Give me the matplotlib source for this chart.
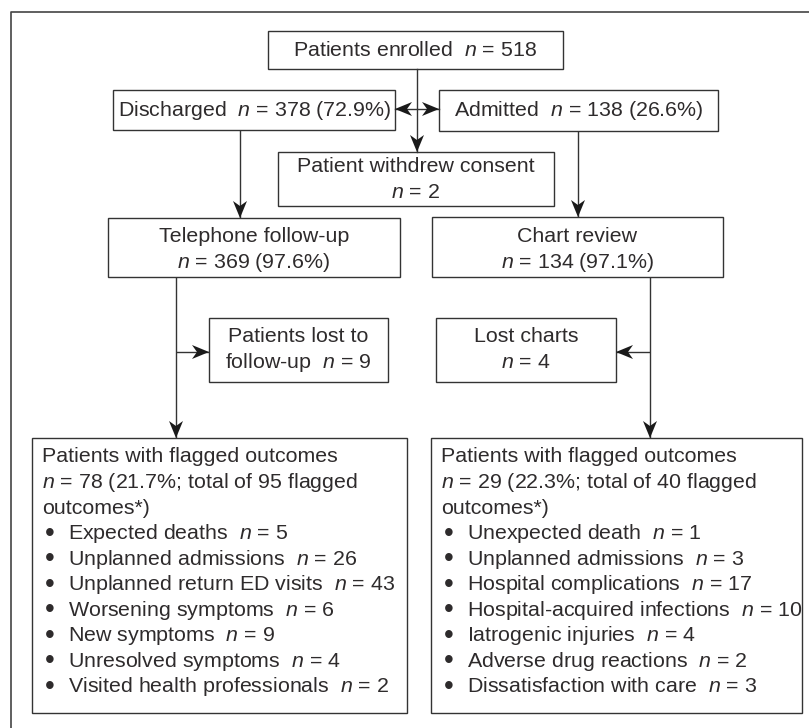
import matplotlib
matplotlib.use("Agg")
import matplotlib.pyplot as plt
from matplotlib.patches import Rectangle, Polygon

plt.rcParams['font.family'] = ['Liberation Sans', 'DejaVu Sans']
plt.rcParams['mathtext.fontset'] = 'custom'
plt.rcParams['mathtext.it'] = 'Liberation Sans:italic'
plt.rcParams['mathtext.rm'] = 'Liberation Sans'

# ---- data ----
enrolled_n = 518
discharged_n, discharged_pct = 378, 72.9
admitted_n, admitted_pct = 138, 26.6
withdrew_n = 2
phone_n, phone_pct = 369, 97.6
chart_n, chart_pct = 134, 97.1
lost_phone_n = 9
lost_chart_n = 4

left_flag_n, left_flag_pct, left_flag_total = 78, 21.7, 95
right_flag_n, right_flag_pct, right_flag_total = 29, 22.3, 40

left_items = ["Expected deaths", "Unplanned admissions", "Unplanned return ED visits",
              "Worsening symptoms", "New symptoms", "Unresolved symptoms",
              "Visited health professionals"]
left_counts = [5, 26, 43, 6, 9, 4, 2]
right_items = ["Unexpected death", "Unplanned admissions", "Hospital complications",
               "Hospital-acquired infections", "Iatrogenic injuries",
               "Adverse drug reactions", "Dissatisfaction with care"]
right_counts = [1, 3, 17, 10, 4, 2, 3]

# ---- figure ----
W, H = 809, 728
fig = plt.figure(figsize=(W / 100, H / 100), dpi=100)
ax = fig.add_axes([0, 0, 1, 1])
ax.set_xlim(0, W)
ax.set_ylim(H, 0)
ax.axis('off')

TXT = '#2e2b2c'
LINE = '#333333'
FS = 15.4
LW = 1.0


def box(x0, y0, x1, y1, lines=None, line_y=None):
    ax.add_patch(Rectangle((x0, y0), x1 - x0, y1 - y0, fill=False,
                           edgecolor=LINE, lw=LW))
    if lines:
        cx = (x0 + x1) / 2
        for t, y in zip(lines, line_y):
            ax.text(cx, y, t, ha='center', va='center', fontsize=FS, color=TXT)


def head(tx, ty, dx, dy, L=17, hw=7, notch=5):
    px, py = -dy, dx
    bx, by = tx - dx * L, ty - dy * L
    nx, ny = tx - dx * (L - notch), ty - dy * (L - notch)
    pts = [(tx, ty), (bx + px * hw, by + py * hw), (nx, ny), (bx - px * hw, by - py * hw)]
    ax.add_patch(Polygon(pts, closed=True, facecolor='#1a1a1a', edgecolor='none', zorder=5))


def arrow(x0, y0, x1, y1):
    ax.plot([x0, x1], [y0, y1], color=LINE, lw=LW, solid_capstyle='butt')
    d = ((x1 - x0) ** 2 + (y1 - y0) ** 2) ** 0.5
    head(x1, y1, (x1 - x0) / d, (y1 - y0) / d)


# outer frame
ax.plot([11, 11, W], [H, 12, 12], color='#444444', lw=1.2)

# boxes
box(268, 31, 563, 69, [f"Patients enrolled  $n$ = {enrolled_n}"], [50])
box(113, 90, 395, 130, [f"Discharged  $n$ = {discharged_n} ({discharged_pct}%)"], [110])
box(439, 90, 718, 131, [f"Admitted  $n$ = {admitted_n} ({admitted_pct}%)"], [110])
box(278, 152, 554, 206, ["Patient withdrew consent", f"$n$ = {withdrew_n}"], [166, 193])
box(108, 218, 400, 277, ["Telephone follow-up", f"$n$ = {phone_n} ({phone_pct}%)"], [236, 262])
box(432, 217, 723, 277, ["Chart review", f"$n$ = {chart_n} ({chart_pct}%)"], [236, 262])
box(209, 318, 388, 382, ["Patients lost to", f"follow-up  $n$ = {lost_phone_n}"], [337, 363])
box(436, 318, 616, 382, ["Lost charts", f"$n$ = {lost_chart_n}"], [337, 363])

# arrows top
ax.plot([417, 417], [69, 152], color=LINE, lw=LW)
head(417, 152, 0, 1)
ax.plot([395, 439], [109, 109], color=LINE, lw=LW)
head(395, 109, -1, 0)
head(439, 109, 1, 0)
arrow(240, 130, 240, 218)
arrow(578, 131, 578, 217)
# lower paths
arrow(176, 277, 176, 438)
arrow(176, 352, 209, 352)
arrow(650, 277, 650, 438)
arrow(650, 352, 616, 352)

# bottom boxes
row_y = [457 + 25.55 * i for i in range(10)]


def outcome_box(x0, x1, n, pct, total, items, counts):
    box(x0, 438, x1, 713)
    tx = x0 + 10
    header = ["Patients with flagged outcomes",
              f"$n$ = {n} ({pct}%; total of {total} flagged",
              "outcomes*)"]
    for t, y in zip(header, row_y[:3]):
        ax.text(tx, y, t, ha='left', va='center', fontsize=FS, color=TXT)
    for name, c, y in zip(items, counts, row_y[3:]):
        ax.text(tx + 3, y, "\u2022", ha='left', va='center', fontsize=20, color=TXT)
        ax.text(tx + 26, y, f"{name}  $n$ = {c}", ha='left', va='center',
                fontsize=FS, color=TXT)


outcome_box(32, 407, left_flag_n, left_flag_pct, left_flag_total, left_items, left_counts)
outcome_box(431, 802, right_flag_n, right_flag_pct, right_flag_total, right_items, right_counts)

fig.savefig("out.png", dpi=100)
